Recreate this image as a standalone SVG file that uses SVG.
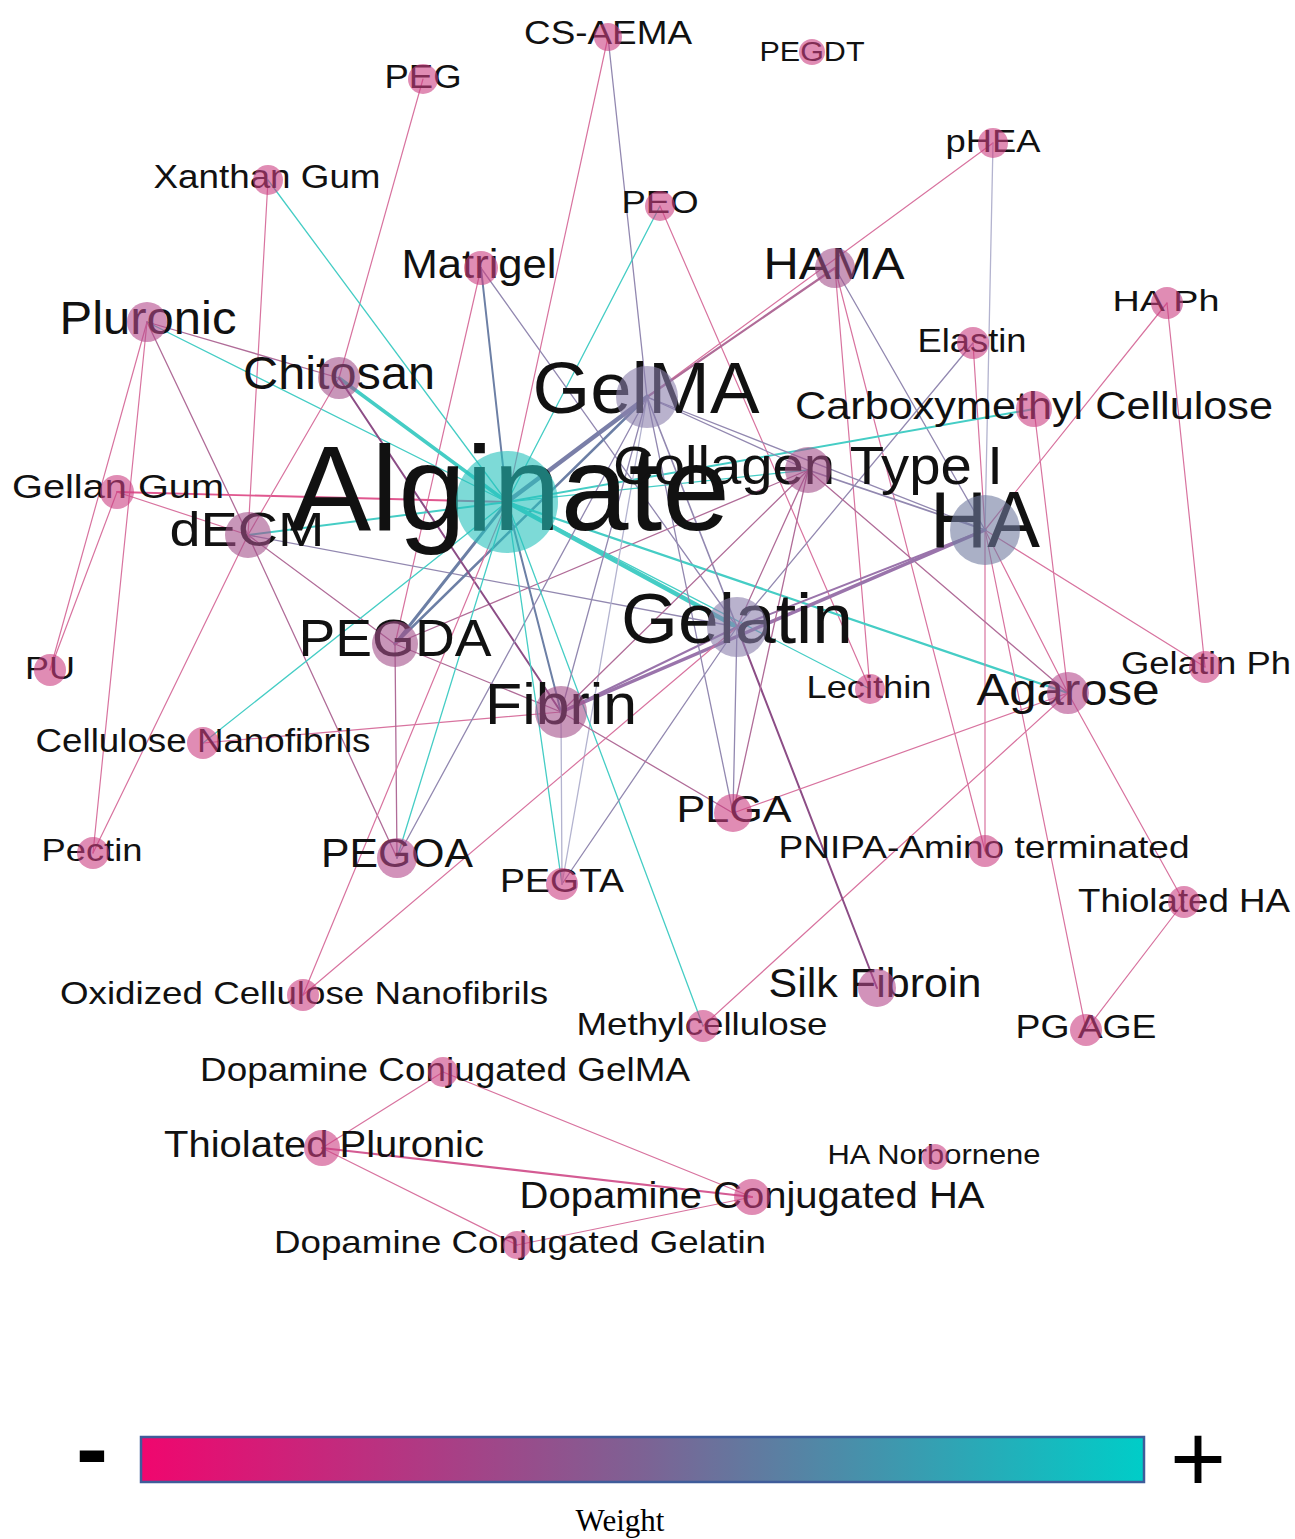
<svg xmlns="http://www.w3.org/2000/svg" width="1295" height="1539" viewBox="0 0 1295 1539">
<style>
.e line{fill:none;stroke-linecap:round}
.p{stroke:#d8739f;stroke-width:1.2}
.hp{stroke:#e0578f;stroke-width:1.8}
.pp{stroke:#b06c98;stroke-width:1.3}
.dp{stroke:#8c4d86;stroke-width:2}
.s{stroke:#9288b0;stroke-width:1.3}
.sl{stroke:#b3b3cf;stroke-width:1.3}
.sb{stroke:#6c7fa5;stroke-width:2}
.pu{stroke:#9a74ab;stroke-width:2}
.t{stroke:#45cdc5;stroke-width:1.3}
.lb{font-family:"Liberation Sans",Arial,sans-serif;fill:#111;text-anchor:middle}
circle{fill-opacity:0.6}
.np{fill:#cb3f82}
.nm{fill:#a3508a}
.npm{fill:#b44a8c}
.nl{fill:#8a7fac}
.nh{fill:#717ba0}
.nt{fill:#26c2bc}
</style>
<defs>
<linearGradient id="wg" x1="0" y1="0" x2="1" y2="0">
<stop offset="0" stop-color="#f0066e"/>
<stop offset="0.5" stop-color="#7d6294"/>
<stop offset="1" stop-color="#00cdc8"/>
</linearGradient>
</defs>
<rect width="1295" height="1539" fill="#fff"/>
<g id="edges" class="e">
<line class="p" x1="608" y1="37" x2="507" y2="502"/>
<line class="s" x1="608" y1="37" x2="647" y2="397"/>
<line class="p" x1="423" y1="79" x2="339" y2="378"/>
<line class="p" x1="993" y1="143" x2="647" y2="397"/>
<line class="sl" x1="993" y1="143" x2="985" y2="530"/>
<line class="p" x1="268" y1="180" x2="248" y2="535"/>
<line class="t" x1="268" y1="180" x2="507" y2="502"/>
<line class="t" x1="660" y1="206" x2="507" y2="502"/>
<line class="p" x1="660" y1="206" x2="870" y2="689"/>
<line class="p" x1="481" y1="268" x2="395" y2="644"/>
<line class="sb" x1="481" y1="268" x2="507" y2="502"/>
<line class="s" x1="481" y1="268" x2="737" y2="627"/>
<line class="pp" style="stroke-width:2.2" x1="835" y1="268" x2="647" y2="397"/>
<line class="p" x1="835" y1="268" x2="985" y2="851"/>
<line class="s" x1="835" y1="268" x2="985" y2="530"/>
<line class="p" x1="835" y1="268" x2="870" y2="689"/>
<line class="p" x1="1167" y1="303" x2="985" y2="530"/>
<line class="p" x1="1167" y1="303" x2="1205" y2="667"/>
<line class="p" x1="973" y1="343" x2="985" y2="530"/>
<line class="s" x1="973" y1="343" x2="737" y2="627"/>
<line class="t" style="stroke-width:2" x1="1034" y1="409" x2="507" y2="502"/>
<line class="p" x1="1034" y1="409" x2="1068" y2="693"/>
<line class="pp" x1="147" y1="322" x2="339" y2="378"/>
<line class="t" x1="147" y1="322" x2="507" y2="502"/>
<line class="p" x1="147" y1="322" x2="50" y2="670"/>
<line class="p" x1="147" y1="322" x2="93" y2="853"/>
<line class="pp" x1="147" y1="322" x2="248" y2="535"/>
<line class="hp" x1="117" y1="492" x2="507" y2="502"/>
<line class="p" x1="117" y1="492" x2="248" y2="535"/>
<line class="p" x1="117" y1="492" x2="50" y2="670"/>
<line class="t" style="stroke-width:2" x1="248" y1="535" x2="507" y2="502"/>
<line class="s" x1="248" y1="535" x2="737" y2="627"/>
<line class="pp" x1="248" y1="535" x2="395" y2="644"/>
<line class="pp" x1="248" y1="535" x2="397" y2="858"/>
<line class="p" x1="248" y1="535" x2="93" y2="853"/>
<line class="p" x1="339" y1="378" x2="248" y2="535"/>
<line class="p" x1="203" y1="743" x2="561" y2="712"/>
<line class="t" x1="203" y1="743" x2="507" y2="502"/>
<line class="sb" style="stroke-width:3" x1="395" y1="644" x2="507" y2="502"/>
<line class="sb" style="stroke-width:2.5" x1="395" y1="644" x2="647" y2="397"/>
<line class="pp" x1="395" y1="644" x2="397" y2="858"/>
<line class="pp" x1="395" y1="644" x2="808" y2="470"/>
<line class="pp" x1="395" y1="644" x2="561" y2="712"/>
<line class="t" style="stroke-width:4.5" x1="507" y1="502" x2="737" y2="627"/>
<line class="t" style="stroke-width:2.2" x1="507" y1="502" x2="1068" y2="693"/>
<line class="t" x1="507" y1="502" x2="870" y2="689"/>
<line class="sb" style="stroke-width:4.5;stroke:#7a7fa8" x1="507" y1="502" x2="647" y2="397"/>
<line class="t" style="stroke-width:3.5" x1="507" y1="502" x2="339" y2="378"/>
<line class="dp" x1="339" y1="378" x2="561" y2="712"/>
<line class="sb" x1="507" y1="502" x2="561" y2="712"/>
<line class="t" x1="507" y1="502" x2="397" y2="858"/>
<line class="s" x1="647" y1="397" x2="397" y2="858"/>
<line class="t" x1="507" y1="502" x2="562" y2="884"/>
<line class="sl" x1="647" y1="397" x2="562" y2="884"/>
<line class="t" x1="507" y1="502" x2="703" y2="1026"/>
<line class="p" x1="703" y1="1026" x2="1068" y2="693"/>
<line class="dp" x1="877" y1="988" x2="737" y2="627"/>
<line class="p" x1="1068" y1="693" x2="1184" y2="902"/>
<line class="p" x1="1184" y1="902" x2="1086" y2="1030"/>
<line class="p" x1="985" y1="530" x2="1086" y2="1030"/>
<line class="p" x1="985" y1="530" x2="985" y2="851"/>
<line class="p" x1="985" y1="530" x2="1068" y2="693"/>
<line class="p" x1="985" y1="530" x2="1205" y2="667"/>
<line class="p" x1="1068" y1="693" x2="733" y2="813"/>
<line class="pp" x1="808" y1="470" x2="1068" y2="693"/>
<line class="pu" style="stroke-width:3.5" x1="561" y1="712" x2="985" y2="530"/>
<line class="pu" x1="737" y1="627" x2="985" y2="530"/>
<line class="pu" x1="561" y1="712" x2="737" y2="627"/>
<line class="p" x1="303" y1="995" x2="507" y2="502"/>
<line class="p" x1="303" y1="995" x2="737" y2="627"/>
<line class="p" x1="443" y1="1072" x2="322" y2="1148"/>
<line class="p" x1="443" y1="1072" x2="752" y2="1197"/>
<line class="p" style="stroke-width:2.2;stroke:#d45b93" x1="322" y1="1148" x2="752" y2="1197"/>
<line class="p" x1="322" y1="1148" x2="517" y2="1245"/>
<line class="p" x1="517" y1="1245" x2="752" y2="1197"/>
<line class="s" x1="647" y1="397" x2="985" y2="530"/>
<line class="s" style="stroke-width:1.8" x1="808" y1="470" x2="985" y2="530"/>
<line class="t" x1="507" y1="502" x2="808" y2="470"/>
<line class="s" x1="647" y1="397" x2="808" y2="470"/>
<line class="s" style="stroke-width:1.6" x1="647" y1="397" x2="737" y2="627"/>
<line class="s" x1="647" y1="397" x2="561" y2="712"/>
<line class="s" x1="647" y1="397" x2="733" y2="813"/>
<line class="pp" x1="808" y1="470" x2="737" y2="627"/>
<line class="pp" x1="808" y1="470" x2="561" y2="712"/>
<line class="s" x1="737" y1="627" x2="562" y2="884"/>
<line class="s" x1="737" y1="627" x2="733" y2="813"/>
<line class="pp" x1="561" y1="712" x2="733" y2="813"/>
<line class="sl" x1="561" y1="712" x2="562" y2="884"/>
<line class="pp" x1="808" y1="470" x2="733" y2="813"/>
</g>
<g id="node-cs-aema"><text class="lb" x="608" y="44" font-size="33" textLength="168" lengthAdjust="spacingAndGlyphs">CS-AEMA</text><circle class="np" cx="608" cy="37" r="14"/></g>
<g id="node-peg"><text class="lb" x="423" y="88" font-size="33" textLength="77" lengthAdjust="spacingAndGlyphs">PEG</text><circle class="np" cx="423" cy="79" r="15"/></g>
<g id="node-pegdt"><text class="lb" x="812" y="61" font-size="27" textLength="105" lengthAdjust="spacingAndGlyphs">PEGDT</text><circle class="np" cx="812" cy="52" r="13"/></g>
<g id="node-phea"><text class="lb" x="993" y="152" font-size="31" textLength="95" lengthAdjust="spacingAndGlyphs">pHEA</text><circle class="np" cx="993" cy="143" r="15"/></g>
<g id="node-xanthan-gum"><text class="lb" x="267" y="188" font-size="33" textLength="227" lengthAdjust="spacingAndGlyphs">Xanthan Gum</text><circle class="np" cx="268" cy="180" r="15"/></g>
<g id="node-peo"><text class="lb" x="660" y="213" font-size="32" textLength="77" lengthAdjust="spacingAndGlyphs">PEO</text><circle class="np" cx="660" cy="206" r="15"/></g>
<g id="node-matrigel"><text class="lb" x="479" y="278" font-size="40" textLength="155" lengthAdjust="spacingAndGlyphs">Matrigel</text><circle class="np" cx="481" cy="268" r="17"/></g>
<g id="node-hama"><text class="lb" x="834" y="279" font-size="45" textLength="141" lengthAdjust="spacingAndGlyphs">HAMA</text><circle class="nm" cx="835" cy="268" r="20"/></g>
<g id="node-pluronic"><text class="lb" x="148" y="334" font-size="47" textLength="177" lengthAdjust="spacingAndGlyphs">Pluronic</text><circle class="npm" cx="147" cy="322" r="20"/></g>
<g id="node-ha-ph"><text class="lb" x="1166" y="311" font-size="30" textLength="107" lengthAdjust="spacingAndGlyphs">HA Ph</text><circle class="np" cx="1167" cy="303" r="16"/></g>
<g id="node-elastin"><text class="lb" x="972" y="352" font-size="33" textLength="109" lengthAdjust="spacingAndGlyphs">Elastin</text><circle class="np" cx="973" cy="343" r="16"/></g>
<g id="node-chitosan"><text class="lb" x="339" y="389" font-size="46" textLength="192" lengthAdjust="spacingAndGlyphs">Chitosan</text><circle class="nm" cx="339" cy="378" r="21"/></g>
<g id="node-gelma"><text class="lb" x="646" y="413" font-size="72" textLength="227" lengthAdjust="spacingAndGlyphs">GelMA</text><circle class="nl" cx="647" cy="397" r="31"/></g>
<g id="node-carboxymethyl-cellulose"><text class="lb" x="1034" y="419" font-size="38" textLength="478" lengthAdjust="spacingAndGlyphs">Carboxymethyl Cellulose</text><circle class="np" cx="1034" cy="409" r="18"/></g>
<g id="node-gellan-gum"><text class="lb" x="118" y="498" font-size="33" textLength="212" lengthAdjust="spacingAndGlyphs">Gellan Gum</text><circle class="np" cx="117" cy="492" r="17"/></g>
<g id="node-decm"><text class="lb" x="247" y="546" font-size="48" textLength="155" lengthAdjust="spacingAndGlyphs">dECM</text><circle class="nm" cx="248" cy="535" r="23"/></g>
<g id="node-alginate"><text class="lb" x="510" y="530" font-size="121" textLength="440" lengthAdjust="spacingAndGlyphs">Alginate</text><circle class="nt" cx="507" cy="502" r="51"/></g>
<g id="node-collagen-type-i"><text class="lb" x="808" y="484" font-size="54" textLength="390" lengthAdjust="spacingAndGlyphs">Collagen Type I</text><circle class="nm" cx="808" cy="470" r="23"/></g>
<g id="node-ha"><text class="lb" x="985" y="547" font-size="80" textLength="110" lengthAdjust="spacingAndGlyphs">HA</text><circle class="nh" cx="985" cy="530" r="35"/></g>
<g id="node-pegda"><text class="lb" x="395" y="656" font-size="52" textLength="193" lengthAdjust="spacingAndGlyphs">PEGDA</text><circle class="nm" cx="395" cy="644" r="23"/></g>
<g id="node-gelatin"><text class="lb" x="737" y="643" font-size="71" textLength="232" lengthAdjust="spacingAndGlyphs">Gelatin</text><circle class="nl" cx="737" cy="627" r="30"/></g>
<g id="node-pu"><text class="lb" x="50" y="679" font-size="32" textLength="50" lengthAdjust="spacingAndGlyphs">PU</text><circle class="np" cx="50" cy="670" r="16"/></g>
<g id="node-fibrin"><text class="lb" x="561" y="724" font-size="58" textLength="152" lengthAdjust="spacingAndGlyphs">Fibrin</text><circle class="nm" cx="561" cy="712" r="26"/></g>
<g id="node-lecithin"><text class="lb" x="869" y="698" font-size="32" textLength="125" lengthAdjust="spacingAndGlyphs">Lecithin</text><circle class="np" cx="870" cy="689" r="15"/></g>
<g id="node-agarose"><text class="lb" x="1068" y="705" font-size="45" textLength="183" lengthAdjust="spacingAndGlyphs">Agarose</text><circle class="npm" cx="1068" cy="693" r="21"/></g>
<g id="node-gelatin-ph"><text class="lb" x="1206" y="674" font-size="31" textLength="170" lengthAdjust="spacingAndGlyphs">Gelatin Ph</text><circle class="np" cx="1205" cy="667" r="16"/></g>
<g id="node-cellulose-nanofibrils"><text class="lb" x="203" y="752" font-size="33" textLength="335" lengthAdjust="spacingAndGlyphs">Cellulose Nanofibrils</text><circle class="np" cx="203" cy="743" r="16"/></g>
<g id="node-plga"><text class="lb" x="734" y="822" font-size="36" textLength="115" lengthAdjust="spacingAndGlyphs">PLGA</text><circle class="np" cx="733" cy="813" r="19"/></g>
<g id="node-pectin"><text class="lb" x="92" y="861" font-size="32" textLength="101" lengthAdjust="spacingAndGlyphs">Pectin</text><circle class="np" cx="93" cy="853" r="16"/></g>
<g id="node-pegoa"><text class="lb" x="397" y="867" font-size="41" textLength="152" lengthAdjust="spacingAndGlyphs">PEGOA</text><circle class="npm" cx="397" cy="858" r="20"/></g>
<g id="node-pegta"><text class="lb" x="562" y="892" font-size="33" textLength="124" lengthAdjust="spacingAndGlyphs">PEGTA</text><circle class="np" cx="562" cy="884" r="16"/></g>
<g id="node-pnipa-amino-terminated"><text class="lb" x="984" y="858" font-size="32" textLength="411" lengthAdjust="spacingAndGlyphs">PNIPA-Amino terminated</text><circle class="np" cx="985" cy="851" r="16"/></g>
<g id="node-thiolated-ha"><text class="lb" x="1184" y="912" font-size="33" textLength="212" lengthAdjust="spacingAndGlyphs">Thiolated HA</text><circle class="np" cx="1184" cy="902" r="16"/></g>
<g id="node-oxidized-cellulose-nanofibrils"><text class="lb" x="304" y="1004" font-size="32" textLength="488" lengthAdjust="spacingAndGlyphs">Oxidized Cellulose Nanofibrils</text><circle class="np" cx="303" cy="995" r="16"/></g>
<g id="node-silk-fibroin"><text class="lb" x="875" y="997" font-size="40" textLength="213" lengthAdjust="spacingAndGlyphs">Silk Fibroin</text><circle class="npm" cx="877" cy="988" r="19"/></g>
<g id="node-methylcellulose"><text class="lb" x="702" y="1035" font-size="32" textLength="251" lengthAdjust="spacingAndGlyphs">Methylcellulose</text><circle class="np" cx="703" cy="1026" r="16"/></g>
<g id="node-pg-age"><text class="lb" x="1086" y="1038" font-size="34" textLength="141" lengthAdjust="spacingAndGlyphs">PG AGE</text><circle class="np" cx="1086" cy="1030" r="16"/></g>
<g id="node-dopamine-conjugated-gelma"><text class="lb" x="445" y="1081" font-size="33" textLength="490" lengthAdjust="spacingAndGlyphs">Dopamine Conjugated GelMA</text><circle class="np" cx="443" cy="1072" r="15"/></g>
<g id="node-thiolated-pluronic"><text class="lb" x="324" y="1157" font-size="37" textLength="320" lengthAdjust="spacingAndGlyphs">Thiolated Pluronic</text><circle class="np" cx="322" cy="1148" r="18"/></g>
<g id="node-ha-norbornene"><text class="lb" x="934" y="1164" font-size="27" textLength="213" lengthAdjust="spacingAndGlyphs">HA Norbornene</text><circle class="np" cx="935" cy="1157" r="13"/></g>
<g id="node-dopamine-conjugated-ha"><text class="lb" x="752" y="1208" font-size="36" textLength="465" lengthAdjust="spacingAndGlyphs">Dopamine Conjugated HA</text><circle class="np" cx="752" cy="1197" r="18"/></g>
<g id="node-dopamine-conjugated-gelatin"><text class="lb" x="520" y="1253" font-size="32" textLength="492" lengthAdjust="spacingAndGlyphs">Dopamine Conjugated Gelatin</text><circle class="np" cx="517" cy="1245" r="14"/></g>
<g id="legend">
<rect x="141" y="1437" width="1003" height="45" fill="url(#wg)" stroke="#3f5c9a" stroke-width="2.5"/>
<text x="92" y="1481" font-family="Liberation Sans, Arial, sans-serif" font-size="96" font-weight="bold" text-anchor="middle" fill="#000">-</text>
<text x="1198" y="1492" font-family="Liberation Sans, Arial, sans-serif" font-size="96" text-anchor="middle" fill="#000">+</text>
<text x="620" y="1531" font-family="Liberation Serif, Times New Roman, serif" font-size="31" text-anchor="middle" fill="#000">Weight</text>
</g>
</svg>
